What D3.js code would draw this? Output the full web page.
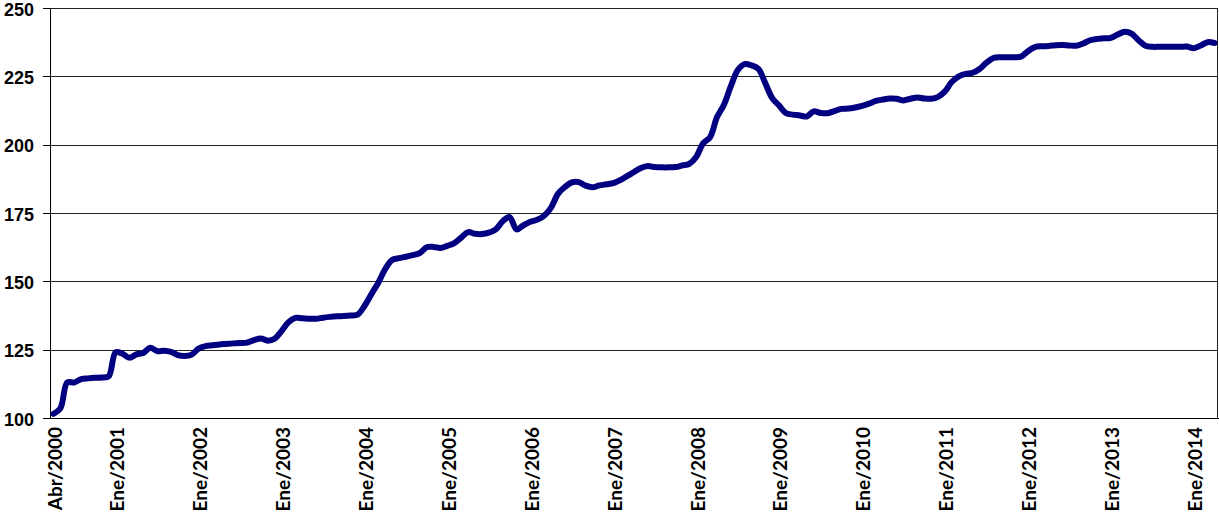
<!DOCTYPE html>
<html>
<head>
<meta charset="utf-8">
<script src="https://cdn.jsdelivr.net/npm/d3@7"></script>
<style>
  body { margin: 0; background: #fff; }
  .y-axis text { font-family: "Liberation Sans", Arial, sans-serif; font-weight: bold; font-size: 18px; fill: #000; }
  .x-axis text { font-family: Lato, "Open Sans", sans-serif; font-weight: bold; font-size: 19px; fill: #000; }
</style>
</head>
<body>
<script>
const width = 1219;
const height = 515;
const margin = { top: 8, right: 1, bottom: 97, left: 50 };

// monthly categories, Abr/2000 .. Abr/2014
const monthNames = ["Ene", "Feb", "Mar", "Abr", "May", "Jun", "Jul", "Ago", "Sep", "Oct", "Nov", "Dic"];
const categories = [];
for (let y = 2000; y <= 2014; y++) {
  monthNames.forEach((m, i) => {
    if ((y === 2000 && i < 3) || (y === 2014 && i > 3)) return;
    categories.push(m + "/" + y);
  });
}

const values = [
  101.5, 103.5, 113, 113, 114.2, 114.5, 114.7, 114.8, 115.3,
  124, 123.5, 122, 123.3, 123.8, 125.7, 124.5, 124.6, 124.2, 123, 122.7, 123.2,
  125.4, 126.3, 126.6, 126.9, 127.1, 127.3, 127.4, 127.6, 128.5, 129.1, 128.3, 129,
  131.8, 135, 136.6, 136.5, 136.3, 136.3, 136.7, 137, 137.2, 137.3, 137.5, 137.8,
  141, 145.3, 149.5, 154.5, 157.8, 158.5, 159, 159.6, 160.3, 162.5, 162.6, 162.2,
  163, 164, 166, 168, 167.4, 167.3, 167.8, 169, 172, 173.5, 169, 170.5,
  171.8, 172.5, 174, 177, 182, 184.5, 186.2, 186.3, 185, 184.4, 185.1, 185.5,
  185.9, 187, 188.5, 190, 191.5, 192.2, 191.8, 191.7, 191.7, 191.8, 192.4, 193,
  195.5, 200.5, 202.7, 210, 214.5, 221.3, 227.2, 229.5, 229, 227.7, 222.5, 217,
  214.3, 211.5, 211, 210.7, 210.3, 212.2, 211.6, 211.5, 212.3, 213.1, 213.2, 213.6,
  214.2, 215, 216, 216.5, 216.9, 216.8, 216.2, 216.8, 217.3, 216.9, 216.8, 217.5,
  219.5, 223, 225, 225.9, 226.3, 227.7, 230, 231.7, 232, 232, 232, 232.2,
  234.2, 235.7, 236, 236.1, 236.4, 236.5, 236.3, 236.2, 237, 238.2, 238.7, 238.9,
  239.1, 240.3, 241.3, 240.6, 238.2, 236.2, 235.8, 235.8, 235.8, 235.8, 235.8, 235.9,
  235.3, 236.3, 237.5, 237.2
];

const xTickLabels = ["Abr/2000", "Ene/2001", "Ene/2002", "Ene/2003", "Ene/2004", "Ene/2005",
  "Ene/2006", "Ene/2007", "Ene/2008", "Ene/2009", "Ene/2010", "Ene/2011", "Ene/2012",
  "Ene/2013", "Ene/2014"];
const yTicks = [100, 125, 150, 175, 200, 225, 250];

const data = categories.map((c, i) => ({ cat: c, value: values[i] }));

const svg = d3.select("body")
  .append("svg")
  .attr("width", width)
  .attr("height", height);

const x = d3.scalePoint()
  .domain(categories)
  .range([margin.left, width - margin.right])
  .padding(0.5);

const y = d3.scaleLinear()
  .domain([100, 250])
  .range([height - margin.bottom, margin.top]);

// grid lines
svg.append("g")
  .attr("transform", `translate(${margin.left},0)`)
  .call(d3.axisLeft(y).tickValues(yTicks).tickSize(-(width - margin.left - margin.right)).tickFormat(""))
  .call(g => g.select(".domain").remove())
  .call(g => g.selectAll("line").attr("stroke", "#222").attr("stroke-width", 1).attr("shape-rendering", "crispEdges"));

// y axis with labels
svg.append("g")
  .attr("class", "y-axis")
  .attr("transform", `translate(${margin.left},0)`)
  .call(d3.axisLeft(y).tickValues(yTicks).tickSize(7).tickPadding(9).tickSizeOuter(0))
  .call(g => g.selectAll("line, path").attr("stroke", "#000").attr("shape-rendering", "crispEdges"))
  .call(g => g.selectAll("text").attr("dy", "0.4em"));

// plot border right side
svg.append("line")
  .attr("x1", width - margin.right - 0.5)
  .attr("x2", width - margin.right - 0.5)
  .attr("y1", margin.top)
  .attr("y2", height - margin.bottom)
  .attr("stroke", "#222")
  .attr("shape-rendering", "crispEdges");

// x axis
svg.append("g")
  .attr("class", "x-axis")
  .attr("transform", `translate(0,${height - margin.bottom})`)
  .call(d3.axisBottom(x).tickValues(xTickLabels).tickSize(0).tickSizeOuter(0))
  .call(g => g.select(".domain").attr("stroke", "#000").attr("shape-rendering", "crispEdges"))
  .call(g => g.selectAll("text")
    .attr("text-anchor", "end")
    .attr("transform", "translate(1,9) rotate(-90)")
    .attr("x", 0)
    .attr("y", 0)
    .attr("dy", "0.36em"));

// the series
const line = d3.line()
  .x(d => x(d.cat))
  .y(d => y(d.value))
  .curve(d3.curveCatmullRom.alpha(0.5));

svg.append("path")
  .datum(data)
  .attr("fill", "none")
  .attr("stroke", "#000080")
  .attr("stroke-width", 6)
  .attr("stroke-linejoin", "round")
  .attr("stroke-linecap", "round")
  .attr("d", line);
</script>
</body>
</html>
